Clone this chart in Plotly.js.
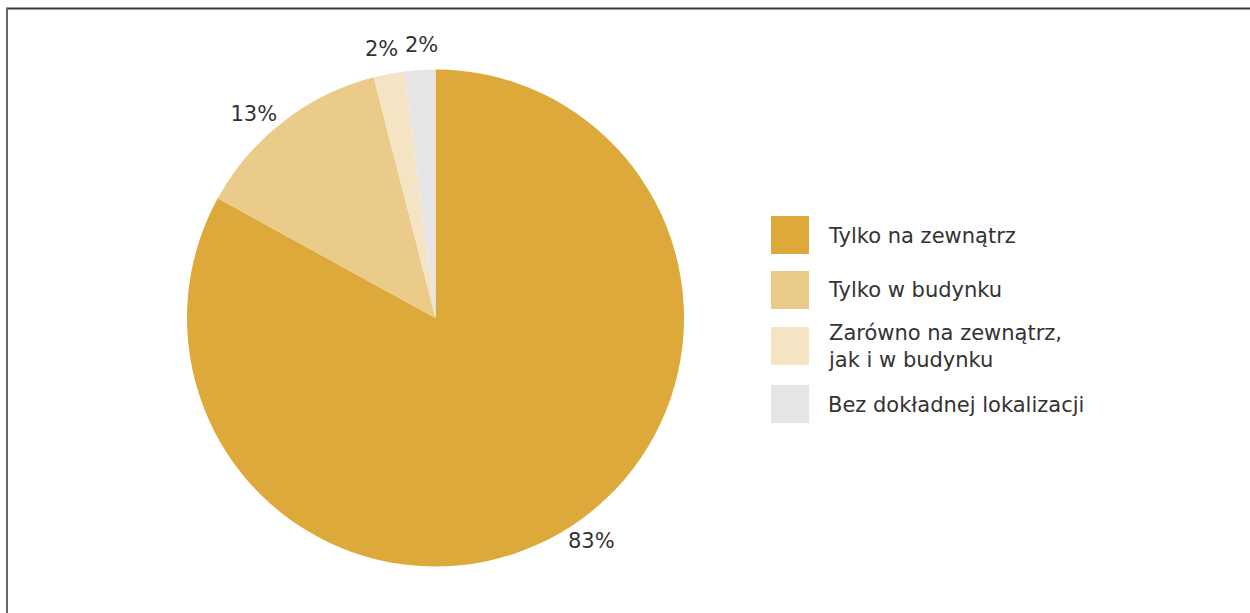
<!DOCTYPE html>
<html>
<head>
<meta charset="utf-8">
<script src="https://cdn.plot.ly/plotly-3.0.1.min.js"></script>
<style>html,body{margin:0;padding:0;background:#fff;}#chart{width:1250px;height:613px;}</style>
</head>
<body>
<div id="chart"></div>
<script>
const categories = ["Tylko na zewnątrz", "Tylko w budynku", "Zarówno na zewnątrz,<br>jak i w budynku", "Bez dokładnej lokalizacji"];
const values = [83, 13, 2, 2];
const colors = ["#DDA93A", "#EACB8A", "#F5E4C4", "#E5E5E5"];
// slices whose label plotly places itself; the rest are placed radially below
const labelMode = ["outside", "outside", "none", "none"];

const W = 1250, H = 613;
const FONT = "DejaVu Sans, sans-serif";
const TEXT = "#333333";
const FS = 21;

// legend layout (pixel positions)
const legX = 771, legSize = 38, legTextX = 826;
const legTops = [216, 271, 327, 385];

const shapes = [];
const annotations = [];
categories.forEach((c, i) => {
  shapes.push({type: 'rect', xref: 'paper', yref: 'paper',
    x0: legX / W, x1: (legX + legSize) / W,
    y0: 1 - (legTops[i] + legSize) / H, y1: 1 - legTops[i] / H,
    fillcolor: colors[i], line: {width: 0}});
  annotations.push({xref: 'paper', yref: 'paper', x: legTextX / W, y: 1 - (legTops[i] + legSize / 2 + 0.5) / H,
    xanchor: 'left', yanchor: 'middle', align: 'left', showarrow: false, text: c,
    font: {family: FONT, size: FS, color: TEXT}});
});
// frame lines
shapes.push({type: 'line', xref: 'paper', yref: 'paper', x0: 6 / W, x1: 1, y0: 1 - 8.5 / H, y1: 1 - 8.5 / H, line: {color: '#3a3a3a', width: 2}});
shapes.push({type: 'line', xref: 'paper', yref: 'paper', x0: 7 / W, x1: 7 / W, y0: 0, y1: 1 - 8 / H, line: {color: '#666666', width: 2}});

const cx = 435.5, cy = 318, r = 248.5;

// radial labels for the small slices, computed from the values
const total = values.reduce((a, b) => a + b, 0);
let cum = 0;
const radial = [];
values.forEach((v, i) => {
  const mid = (cum + v / 2) / total * 2 * Math.PI;
  cum += v;
  if (labelMode[i] !== 'none') return;
  const d = r + 25;
  radial.push({px: cx + d * Math.sin(mid), py: cy - d * Math.cos(mid), text: v + '%'});
});
// keep neighbouring small labels apart
const minSep = 40;
for (let k = 1; k < radial.length; k++) {
  const gap = radial[k].px - radial[k - 1].px;
  if (Math.abs(gap) < minSep) {
    const s = (minSep - Math.abs(gap)) / 2 * Math.sign(gap || 1);
    radial[k - 1].px -= s;
    radial[k].px += s;
  }
}
radial.forEach(l => {
  annotations.push({xref: 'paper', yref: 'paper', x: l.px / W, y: 1 - l.py / H,
    xanchor: 'center', yanchor: 'middle', showarrow: false, text: l.text,
    font: {family: FONT, size: FS, color: TEXT}});
});

const trace = {
  type: 'pie',
  labels: categories,
  values: values,
  sort: false,
  direction: 'clockwise',
  rotation: 0,
  marker: {colors: colors, line: {width: 0}},
  texttemplate: '%{value}%',
  textposition: labelMode,
  textfont: {family: FONT, size: FS, color: TEXT},
  outsidetextfont: {family: FONT, size: FS, color: TEXT},
  automargin: false,
  showlegend: false,
  hoverinfo: 'label+percent',
  domain: {x: [(cx - r) / W, (cx + r) / W], y: [1 - (cy + r) / H, 1 - (cy - r) / H]}
};

Plotly.newPlot('chart', [trace], {
  width: W, height: H,
  margin: {l: 0, r: 0, t: 0, b: 0},
  paper_bgcolor: '#ffffff',
  showlegend: false,
  shapes: shapes,
  annotations: annotations
}, {displayModeBar: false, staticPlot: true});
</script>
</body>
</html>
